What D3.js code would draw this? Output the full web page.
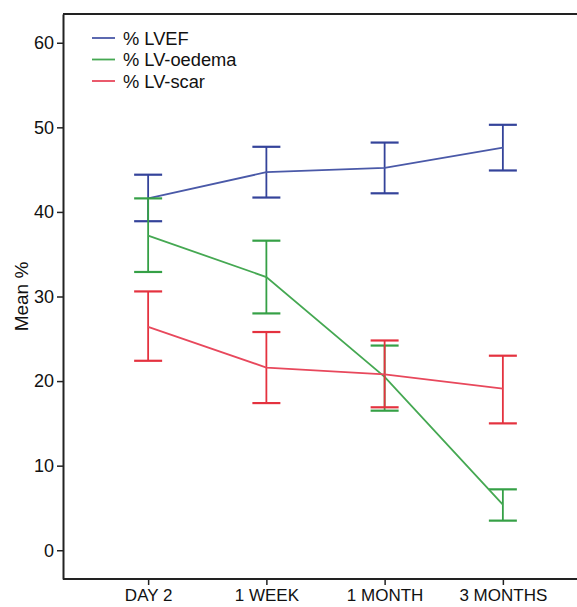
<html><head><title>Mean % over time</title>
<style>
  body { margin: 0; background: #fff; }
  svg { font-family: 'Liberation Sans', Arial, sans-serif; }
</style>
</head>
<body>
<svg id="chart" width="577" height="607"></svg>
<script src="https://cdnjs.cloudflare.com/ajax/libs/d3/7.8.5/d3.min.js"></script>
<script>
  // time points on the x axis
  const timepoints = ["DAY 2", "1 WEEK", "1 MONTH", "3 MONTHS"];
  const yTicks = [0, 10, 20, 30, 40, 50, 60];

  // means and error bar ends
  const lvefMean = [41.6, 44.7, 45.2, 47.6];
  const lvefLow  = [38.9, 41.7, 42.2, 44.9];
  const lvefHigh = [44.4, 47.7, 48.2, 50.3];

  const oedemaMean = [37.2, 32.3, 20.5, 5.4];
  const oedemaLow  = [32.9, 28.0, 16.5, 3.5];
  const oedemaHigh = [41.6, 36.6, 24.2, 7.2];

  const scarMean = [26.4, 21.6, 20.8, 19.1];
  const scarLow  = [22.4, 17.4, 16.9, 15.0];
  const scarHigh = [30.6, 25.8, 24.8, 23.0];

  const series = [
    { name: "% LVEF", color: "#4a59a8", bar: "#34439a", mean: lvefMean, low: lvefLow, high: lvefHigh },
    { name: "% LV-oedema", color: "#45a852", bar: "#35a046", mean: oedemaMean, low: oedemaLow, high: oedemaHigh },
    { name: "% LV-scar", color: "#e8485c", bar: "#e4323f", mean: scarMean, low: scarLow, high: scarHigh }
  ];

  const svg = d3.select("#chart");
  const plotLeft = 63, plotTop = 14, plotBottom = 579, plotRight = 577;

  const x = d3.scalePoint().domain(timepoints).range([plotLeft, 588]).padding(0.72);
  const y = d3.scaleLinear().domain([-3.4, 63.4]).range([plotBottom, plotTop]);

  // frame: top line and axes
  svg.append("line").attr("x1", plotLeft).attr("x2", plotRight).attr("y1", plotTop).attr("y2", plotTop)
    .attr("stroke", "#222").attr("stroke-width", 2);

  const yAxis = svg.append("g").attr("transform", `translate(${plotLeft},0)`)
    .call(d3.axisLeft(y).tickValues(yTicks).tickSize(6).tickSizeOuter(0).tickPadding(3));
  yAxis.select(".domain").attr("stroke", "#222").attr("stroke-width", 2);
  yAxis.selectAll(".tick line").attr("stroke", "#222").attr("stroke-width", 1.5);
  yAxis.selectAll("text").attr("font-size", 18).attr("fill", "#111");

  const xAxis = svg.append("g").attr("transform", `translate(0,${plotBottom})`)
    .call(d3.axisBottom(x).tickSize(6).tickSizeOuter(0).tickPadding(4));
  xAxis.select(".domain").attr("d", `M${plotLeft},0H${plotRight}`).attr("stroke", "#222").attr("stroke-width", 2);
  xAxis.selectAll(".tick line").attr("stroke", "#222").attr("stroke-width", 1.5);
  xAxis.selectAll("text").attr("font-size", 17).attr("fill", "#111");

  svg.append("text")
    .attr("transform", `translate(28,${(plotTop + plotBottom) / 2}) rotate(-90)`)
    .attr("text-anchor", "middle")
    .attr("font-size", 19)
    .attr("fill", "#111")
    .text("Mean %");

  const line = d3.line().x((d, i) => x(timepoints[i])).y(d => y(d));
  const cap = 14;

  series.forEach(s => {
    const g = svg.append("g");
    // error bars
    timepoints.forEach((t, i) => {
      const cx = x(t);
      g.append("line").attr("x1", cx).attr("x2", cx).attr("y1", y(s.low[i])).attr("y2", y(s.high[i]))
        .attr("stroke", s.bar).attr("stroke-width", 1.8);
      [s.low[i], s.high[i]].forEach(v => {
        g.append("line").attr("x1", cx - cap).attr("x2", cx + cap).attr("y1", y(v)).attr("y2", y(v))
          .attr("stroke", s.bar).attr("stroke-width", 2.2);
      });
    });
    g.append("path").datum(s.mean).attr("d", line)
      .attr("fill", "none").attr("stroke", s.color).attr("stroke-width", 1.8);
  });

  // legend
  const legend = svg.append("g");
  series.forEach((s, i) => {
    const ly = 38 + i * 21.5;
    legend.append("line").attr("x1", 92).attr("x2", 115).attr("y1", ly).attr("y2", ly)
      .attr("stroke", s.color).attr("stroke-width", 1.8);
    legend.append("text").attr("x", 123).attr("y", ly).attr("dy", "0.36em")
      .attr("font-size", 18.3).attr("fill", "#111").text(s.name);
  });
</script>
</body></html>
